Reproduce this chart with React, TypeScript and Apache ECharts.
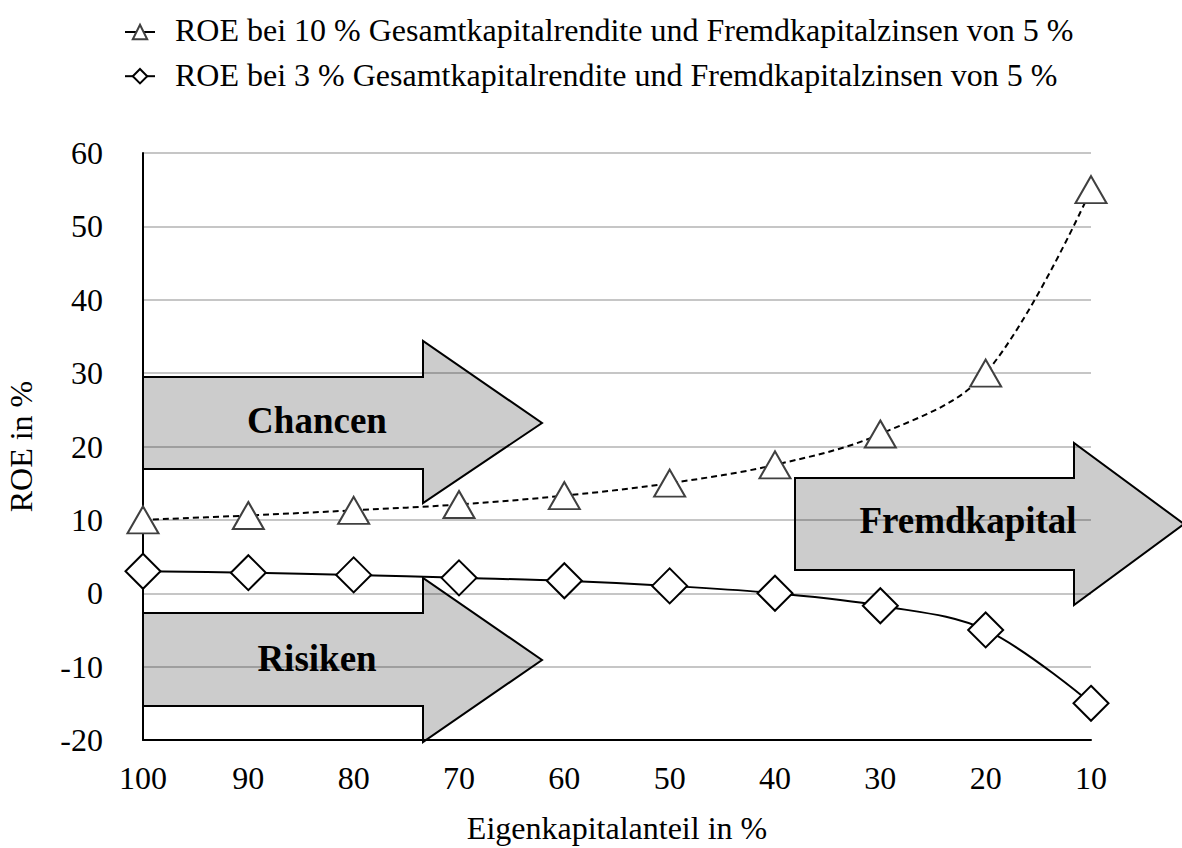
import React, { useEffect, useRef } from "react";
import * as echarts from "echarts";

const categories = ["100", "90", "80", "70", "60", "50", "40", "30", "20", "10"];
const roeHigh = [10, 10.6, 11.3, 12.1, 13.3, 15, 17.5, 21.7, 30, 55];
const roeLow = [3, 2.8, 2.5, 2.1, 1.7, 1, 0, -1.7, -5, -15];
const seriesNames = [
  "ROE bei 10 % Gesamtkapitalrendite und Fremdkapitalzinsen von 5 %",
  "ROE bei 3 % Gesamtkapitalrendite und Fremdkapitalzinsen von 5 %",
];
const yMin = -20;
const yMax = 60;
const yInterval = 10;
const arrowLabels = ["Chancen", "Risiken", "Fremdkapital"];

const FONT = "Liberation Serif";

function arrow(
  x0: number, x1: number, x2: number,
  bodyTop: number, bodyBot: number, headTop: number, headBot: number, tipY: number,
  label: string, lx: number, ly: number, fs: number
) {
  return {
    type: "group",
    z: 0,
    children: [
      {
        type: "polygon",
        z: 0,
        shape: {
          points: [
            [x0, bodyTop], [x1, bodyTop], [x1, headTop], [x2, tipY],
            [x1, headBot], [x1, bodyBot], [x0, bodyBot],
          ],
        },
        style: { fill: "#cccccc", stroke: "#000", lineWidth: 2 },
      },
      {
        type: "text",
        z: 0,
        x: lx,
        y: ly,
        style: {
          text: label,
          fill: "#000",
          fontFamily: FONT,
          fontWeight: "bold",
          fontSize: fs,
          align: "center",
          verticalAlign: "middle",
        },
      },
    ],
  };
}

function legendLabel(text: string, x: number, y: number) {
  return {
    type: "text",
    z: 5,
    x,
    y,
    style: {
      text,
      fill: "#000",
      fontFamily: FONT,
      fontSize: 32,
      align: "left",
      verticalAlign: "middle",
    },
  };
}

export default function App() {
  const ref = useRef<HTMLDivElement>(null);
  useEffect(() => {
    document.body.style.margin = "0";
    const chart = echarts.init(ref.current!, null, { renderer: "svg" });
    chart.setOption({
      animation: false,
      backgroundColor: "#fff",
      textStyle: { fontFamily: FONT, fontSize: 32, color: "#000" },
      legend: {
        orient: "vertical",
        left: 119,
        top: 18,
        itemWidth: 30,
        itemHeight: 18,
        itemGap: 27,
        data: seriesNames,
        formatter: () => "",
        lineStyle: { type: "solid", width: 2 },
      },
      grid: { left: 143, right: 91, top: 153, bottom: 108, containLabel: false, outerBoundsMode: "none" },
      xAxis: {
        type: "category",
        data: categories,
        boundaryGap: false,
        z: 1,
        name: "Eigenkapitalanteil in %",
        nameLocation: "middle",
        nameGap: 72,
        nameTextStyle: { fontFamily: FONT, fontSize: 32, color: "#000" },
        axisLine: { onZero: false, lineStyle: { color: "#000", width: 2 } },
        axisTick: { show: false },
        axisLabel: { margin: 22, fontFamily: FONT, fontSize: 32, color: "#000" },
        splitLine: { show: false },
      },
      yAxis: {
        type: "value",
        min: yMin,
        max: yMax,
        interval: yInterval,
        z: 1,
        name: "ROE in %",
        nameLocation: "middle",
        nameGap: 106,
        nameRotate: 90,
        nameTextStyle: { fontFamily: FONT, fontSize: 32, color: "#000" },
        axisLine: { show: true, lineStyle: { color: "#000", width: 2 } },
        axisTick: { show: false },
        axisLabel: { margin: 40, fontFamily: FONT, fontSize: 32, color: "#000" },
        splitLine: { show: true, lineStyle: { color: "rgba(0,0,0,0.3)", width: 1.5 } },
      },
      graphic: [
        arrow(143, 423, 542, 377, 469, 341, 503, 423, arrowLabels[0], 317, 420, 37),
        arrow(143, 423, 542, 613, 706, 578, 742, 660, arrowLabels[1], 317, 658, 37),
        arrow(795, 1074, 1184, 478, 570, 443, 605, 524, arrowLabels[2], 968, 520, 37),
        legendLabel(seriesNames[0], 175, 30),
        legendLabel(seriesNames[1], 175, 75),
      ],
      series: [
        {
          name: seriesNames[0],
          type: "line",
          data: roeHigh,
          smooth: 0.35,
          z: 3,
          symbol: "triangle",
          symbolSize: [31, 27],
          lineStyle: { color: "#000", width: 2, type: [6, 4] },
          itemStyle: { color: "#fff", borderColor: "#404040", borderWidth: 2 },
        },
        {
          name: seriesNames[1],
          type: "line",
          data: roeLow,
          smooth: 0.35,
          z: 3,
          symbol: "diamond",
          symbolSize: [35, 35],
          lineStyle: { color: "#000", width: 2 },
          itemStyle: { color: "#fff", borderColor: "#000", borderWidth: 2 },
        },
      ],
    });
    return () => chart.dispose();
  }, []);
  return <div ref={ref} style={{ width: 1182, height: 848 }} />;
}
